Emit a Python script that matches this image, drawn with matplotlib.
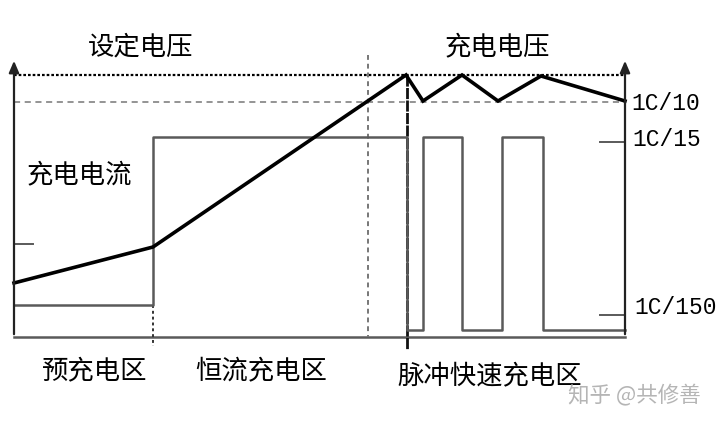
import matplotlib.pyplot as plt

plt.rcParams['font.family'] = ['Noto Sans CJK SC', 'DejaVu Sans']

# ---------------------------
# Data (schematic units, y grows downward like the drawing)
# ---------------------------
# charging voltage curve
volt_t = [14, 153, 406, 423, 462, 498, 541, 625]
volt_v = [283, 247, 75, 101, 75, 101, 76, 101]

# charging current (pre-charge, constant current, pulses)
curr_t = [14, 153, 153, 407, 407, 423, 423, 462, 462, 502, 502, 543, 543, 625]
curr_i = [305, 305, 137, 137, 330, 330, 137, 137, 330, 330, 137, 137, 330, 330]

# reference levels
V_SET = 75
V_LOW = 102
AXIS_BOTTOM = 337
X_LEFT = 14
X_RIGHT = 625

# zone boundaries
x_pre_end = 153
x_mid = 368
x_pulse_start = 407

right_ticks = [142, 315]
right_labels = ["1C/15", "1C/150"]

fig = plt.figure(figsize=(7.2, 4.25), dpi=100)
ax = fig.add_axes([0, 0, 1, 1])
ax.set_xlim(0, 720)
ax.set_ylim(425, 0)
ax.axis("off")

grey = "#5a5a5a"

# axes with arrows
for x in (X_LEFT, X_RIGHT):
    ax.annotate("", xy=(x, 58), xytext=(x, AXIS_BOTTOM),
                arrowprops=dict(arrowstyle="-|>,head_length=0.7,head_width=0.3",
                                color="#222222", lw=1.6))
ax.plot([X_LEFT, X_RIGHT], [AXIS_BOTTOM, AXIS_BOTTOM], color=grey, lw=1.8)

# reference lines
ax.plot([X_LEFT, X_RIGHT], [V_SET, V_SET], color="black", lw=1.6,
        linestyle=(0, (1.2, 0.9)))
ax.plot([X_LEFT, X_RIGHT], [V_LOW, V_LOW], color="#777777", lw=1.1,
        linestyle=(0, (4, 3)))

# zone separators
ax.plot([x_pre_end, x_pre_end], [305, 346], color="#333333", lw=1.4,
        linestyle=(0, (1.5, 1.5)))
ax.plot([x_mid, x_mid], [55, AXIS_BOTTOM], color="#777777", lw=1.4,
        linestyle=(0, (2.5, 2)))
ax.plot([x_pulse_start, x_pulse_start], [V_SET, 350], color="#111111", lw=2.0,
        linestyle=(0, (4, 0.5)))

# ticks
ax.plot([X_LEFT, 33], [244, 244], color=grey, lw=1.4)
for y in right_ticks:
    ax.plot([600, X_RIGHT], [y, y], color=grey, lw=1.4)

# curves
ax.plot(curr_t, curr_i, color=grey, lw=1.8)
ax.plot(volt_t, volt_v, color="black", lw=2.6, solid_joinstyle="miter")

# labels
fs = 19
ax.text(141, 47, "设定电压", fontsize=fs, ha="center", va="center")
ax.text(497, 47, "充电电压", fontsize=fs, ha="center", va="center")
ax.text(79, 175, "充电电流", fontsize=fs, ha="center", va="center")
ax.text(95, 371, "预充电区", fontsize=fs, ha="center", va="center")
ax.text(261, 371, "恒流充电区", fontsize=fs, ha="center", va="center")
ax.text(490, 376, "脉冲快速充电区", fontsize=fs, ha="center", va="center")

mono = dict(fontsize=16.5, family="Liberation Mono", ha="left", va="center")
ax.text(631, 103, "1C/10", **mono)
ax.text(632, 140, right_labels[0], **mono)
ax.text(634, 308, right_labels[1], **mono)

ax.text(634, 396, "知乎 @共修善", fontsize=15.5, color="#b5b5b5",
        ha="center", va="center")

fig.savefig("out.png", dpi=100)
